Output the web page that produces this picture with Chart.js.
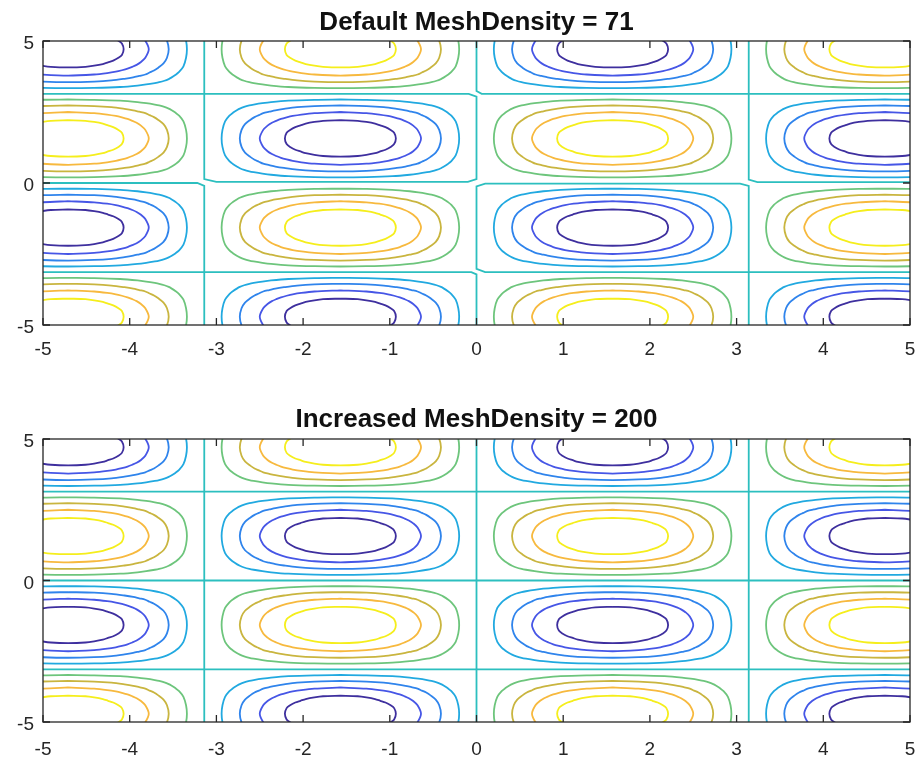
<!DOCTYPE html>
<html>
<head>
<meta charset="utf-8">
<script src="https://cdn.jsdelivr.net/npm/chart.js@4"></script>
<style>
  html, body { margin: 0; padding: 0; background: #fff; }
  .panel { position: absolute; left: 0; width: 919px; }
  #top { top: 0; height: 380px; }
  #bottom { top: 380px; height: 381px; }
</style>
</head>
<body>
<div class="panel" id="top"><canvas id="meshDefault"></canvas></div>
<div class="panel" id="bottom"><canvas id="meshDense"></canvas></div>
<script>
const xTicks = [-5, -4, -3, -2, -1, 0, 1, 2, 3, 4, 5];
const yTicks = [-5, 0, 5];

const levels = [-0.8, -0.6, -0.4, -0.2, 0, 0.2, 0.4, 0.6, 0.8];
const levelColors = ['#3e2f9e', '#4656e6', '#2f84ec', '#21a9e0', '#2cbfbf', '#6dc57c', '#c9b53f', '#f7b93e', '#f5ee1c'];

// centres of the closed loops, and whether the loop is a trough (-1) or a peak (+1)
const cellX = [-4.71, -1.57, 1.57, 4.71];
const cellY = [4.71, 1.57, -1.57, -4.71];
const cellSign = [
  [-1,  1, -1,  1],
  [ 1, -1,  1, -1],
  [-1,  1, -1,  1],
  [ 1, -1,  1, -1]
];

// one quarter of each loop, offsets from its centre, read from top point to side point
const outlineLevels = [0.2, 0.4, 0.6, 0.8];
const quarterOutlines = [
  [[0, 1.37], [0.3, 1.36], [0.6, 1.33], [0.8, 1.28], [0.9, 1.24], [1.0, 1.19], [1.05, 1.16], [1.11, 1.11],
   [1.16, 1.05], [1.19, 1.0], [1.24, 0.9], [1.28, 0.8], [1.33, 0.6], [1.36, 0.3], [1.37, 0]],
  [[0, 1.16], [0.3, 1.14], [0.5, 1.10], [0.65, 1.04], [0.75, 0.99], [0.82, 0.94], [0.89, 0.89],
   [0.94, 0.82], [0.99, 0.75], [1.04, 0.65], [1.10, 0.5], [1.14, 0.3], [1.16, 0]],
  [[0, 0.93], [0.3, 0.89], [0.45, 0.84], [0.55, 0.79], [0.62, 0.74], [0.685, 0.685],
   [0.74, 0.62], [0.79, 0.55], [0.84, 0.45], [0.89, 0.3], [0.93, 0]],
  [[0, 0.64], [0.2, 0.62], [0.3, 0.58], [0.4, 0.52], [0.46, 0.46], [0.52, 0.4], [0.58, 0.3], [0.62, 0.2], [0.64, 0]]
];

// zero-level lines; the coarse mesh gives small kinks where they cross
const zeroLinesDefault = [
  [[-3.14, 5], [-3.14, 0.14], [-3.0, 0.04], [-0.1, 0.04], [0, 0.14], [0, 3.04], [-0.09, 3.14], [-5, 3.14]],
  [[-5, 0], [-3.22, 0], [-3.14, -0.1], [-3.14, -5]],
  [[0, 5], [0, 3.24], [0.06, 3.14], [5, 3.14]],
  [[3.14, 5], [3.14, 0.12], [3.24, 0.03], [5, 0.03]],
  [[3.14, -5], [3.14, -0.1], [3.04, -0.02], [0.1, -0.02], [0, -0.12], [0, -3.02], [0.1, -3.14], [5, -3.14]],
  [[-5, -3.14], [-0.06, -3.14], [0, -3.22], [0, -5]]
];
const zeroLinesDense = [
  [[-3.14, -5], [-3.14, 5]],
  [[0, -5], [0, 5]],
  [[3.14, -5], [3.14, 5]],
  [[-5, 3.14], [5, 3.14]],
  [[-5, 0], [5, 0]],
  [[-5, -3.14], [5, -3.14]]
];

const axisColor = '#262626';
const tickFont = { family: 'Liberation Sans, Arial, sans-serif', size: 19 };

const colorFor = v => levelColors[levels.findIndex(l => Math.abs(l - v) < 1e-6)];

function closeOutline(q, cx, cy) {
  const pts = [];
  q.forEach(([u, v]) => pts.push({ x: cx + u, y: cy + v }));
  q.slice().reverse().slice(1).forEach(([u, v]) => pts.push({ x: cx + u, y: cy - v }));
  q.slice(1).forEach(([u, v]) => pts.push({ x: cx - u, y: cy - v }));
  q.slice().reverse().slice(1).forEach(([u, v]) => pts.push({ x: cx - u, y: cy + v }));
  return pts;
}

function lineSet(points, color, tension) {
  return {
    data: points,
    borderColor: color,
    borderWidth: 1.8,
    pointRadius: 0,
    showLine: true,
    fill: false,
    tension: tension
  };
}

function contourDatasets(zeroLines) {
  const sets = [];
  cellY.forEach((cy, r) => {
    cellX.forEach((cx, c) => {
      quarterOutlines.forEach((q, k) => {
        const value = cellSign[r][c] * outlineLevels[k];
        sets.push(lineSet(closeOutline(q, cx, cy), colorFor(value), 0.3));
      });
    });
  });
  zeroLines.forEach(z => sets.push(lineSet(z.map(([x, y]) => ({ x, y })), colorFor(0), 0)));
  return sets;
}

// box round the axes with inward tick marks on all four sides
const boxPlugin = {
  id: 'box',
  afterDatasetsDraw(chart) {
    const { ctx, chartArea: a, scales } = chart;
    const len = 7;
    ctx.save();
    ctx.strokeStyle = axisColor;
    ctx.lineWidth = 1.3;
    ctx.beginPath();
    xTicks.forEach(v => {
      const px = scales.x.getPixelForValue(v);
      ctx.moveTo(px, a.bottom); ctx.lineTo(px, a.bottom - len);
      ctx.moveTo(px, a.top); ctx.lineTo(px, a.top + len);
    });
    yTicks.forEach(v => {
      const py = scales.y.getPixelForValue(v);
      ctx.moveTo(a.left, py); ctx.lineTo(a.left + len, py);
      ctx.moveTo(a.right, py); ctx.lineTo(a.right - len, py);
    });
    ctx.stroke();
    ctx.strokeRect(a.left, a.top, a.right - a.left, a.bottom - a.top);
    ctx.restore();
  }
};

function makeChart(id, title, zeroLines, titlePad, xAxisHeight, xLabelPad) {
  new Chart(document.getElementById(id), {
    type: 'scatter',
    data: { datasets: contourDatasets(zeroLines) },
    options: {
      responsive: true,
      maintainAspectRatio: false,
      animation: false,
      layout: { padding: { left: 0, right: 9, top: 0, bottom: 0 } },
      plugins: {
        legend: { display: false },
        tooltip: { enabled: false },
        title: {
          display: true,
          text: title,
          fullSize: false,
          color: '#111',
          font: { family: 'Liberation Sans, Arial, sans-serif', size: 26, weight: 'bold' },
          padding: titlePad
        }
      },
      scales: {
        x: {
          type: 'linear',
          min: -5,
          max: 5,
          grid: { display: false, drawTicks: false },
          border: { display: false },
          afterBuildTicks: s => { s.ticks = xTicks.map(v => ({ value: v })); },
          afterFit: s => {
            s.height = xAxisHeight;
            s.paddingLeft = 0;
            s.paddingRight = 0;
          },
          ticks: { font: tickFont, color: axisColor, padding: xLabelPad, maxRotation: 0, autoSkip: false }
        },
        y: {
          type: 'linear',
          min: -5,
          max: 5,
          grid: { display: false, drawTicks: false },
          border: { display: false },
          afterBuildTicks: s => { s.ticks = yTicks.map(v => ({ value: v })); },
          afterFit: s => {
            s.width = 43;
            s.paddingTop = 0;
            s.paddingBottom = 0;
          },
          ticks: { font: tickFont, color: axisColor, padding: 9, labelOffset: 3, autoSkip: false }
        }
      }
    },
    plugins: [boxPlugin]
  });
}

makeChart('meshDefault', 'Default MeshDensity = 71', zeroLinesDefault, { top: 7, bottom: 2.8 }, 55, 13);
makeChart('meshDense', 'Increased MeshDensity = 200', zeroLinesDense, { top: 24.4, bottom: 3.4 }, 39, 16);
</script>
</body>
</html>
